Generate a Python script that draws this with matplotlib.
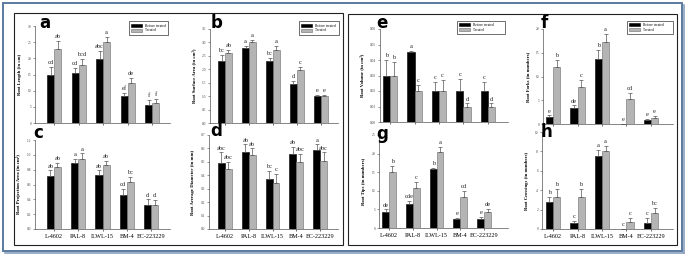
import matplotlib
matplotlib.use("Agg")
import matplotlib.pyplot as plt
from matplotlib.patches import Rectangle, Patch
import numpy as np

W, H = 685, 257

genotypes = ["L-4602", "PAL-8", "ILWL-15", "BM-4", "EC-223229"]
series_names = ["Before treated", "Treated"]

# a Root length
a_before = [15.0, 15.5, 19.8, 8.2, 5.5]
a_treated = [22.8, 18.0, 25.0, 12.3, 6.2]
a_err_b = [2.2, 1.5, 2.5, 1.0, 1.5]
a_err_t = [2.5, 1.8, 1.5, 1.7, 1.2]
a_let_b = ["cd", "cd", "abc", "ef", "f"]
a_let_t = ["ab", "bcd", "a", "de", "f"]

# b Root surface area
b_before = [2.30, 2.78, 2.32, 1.45, 1.02]
b_treated = [2.60, 3.00, 2.72, 1.98, 1.00]
b_err_b = [0.22, 0.10, 0.10, 0.10, 0.04]
b_err_t = [0.12, 0.10, 0.15, 0.10, 0.05]
b_let_b = ["bc", "a", "bc", "d", "e"]
b_let_t = ["ab", "a", "a", "c", "e"]

# c Root projection area
c_before = [0.72, 0.89, 0.73, 0.46, 0.32]
c_treated = [0.83, 0.95, 0.86, 0.63, 0.32]
c_err_b = [0.07, 0.06, 0.06, 0.08, 0.08]
c_err_t = [0.06, 0.07, 0.06, 0.07, 0.07]
c_let_b = ["ab", "a", "ab", "cd", "d"]
c_let_t = ["ab", "a", "ab", "bc", "d"]

# d Root average diameter
d_before = [0.49, 0.57, 0.37, 0.56, 0.59]
d_treated = [0.45, 0.55, 0.34, 0.50, 0.51]
d_err_b = [0.08, 0.06, 0.06, 0.05, 0.04]
d_err_t = [0.05, 0.05, 0.07, 0.06, 0.06]
d_let_b = ["abc", "ab", "bc", "ab", "a"]
d_let_t = ["abc", "ab", "c", "abc", "abc"]

# e Root volume
e_before = [0.030, 0.045, 0.020, 0.020, 0.020]
e_treated = [0.030, 0.020, 0.020, 0.010, 0.010]
e_err_b = [0.010, 0.001, 0.006, 0.008, 0.006]
e_err_t = [0.009, 0.004, 0.007, 0.002, 0.002]
e_let_b = ["b", "a", "c", "c", "c"]
e_let_t = ["b", "c", "c", "d", "d"]

# f Root forks
f_before = [1.5, 3.3, 13.7, 0.0, 0.8]
f_treated = [12.0, 7.7, 17.3, 5.3, 1.3]
f_err_b = [0.3, 0.6, 1.8, 0.0, 0.2]
f_err_t = [1.5, 1.5, 1.7, 1.3, 0.4]
f_let_b = ["e", "de", "b", "e", "e"]
f_let_t = ["b", "c", "a", "cd", "e"]

# g Root tips
g_before = [4.2, 6.5, 15.8, 2.3, 2.5]
g_treated = [15.0, 10.8, 20.3, 8.3, 4.3]
g_err_b = [0.8, 0.8, 0.3, 0.3, 0.5]
g_err_t = [1.8, 1.6, 1.6, 1.6, 0.8]
g_let_b = ["de", "cde", "b", "e", "e"]
g_let_t = ["b", "c", "a", "cd", "de"]

# h Root crossings
h_before = [2.8, 0.6, 7.5, 0.0, 0.6]
h_treated = [3.3, 3.3, 8.0, 0.7, 1.7]
h_err_b = [0.5, 0.2, 0.6, 0.0, 0.5]
h_err_t = [0.8, 0.8, 0.6, 0.4, 0.5]
h_let_b = ["b", "c", "a", "c", "c"]
h_let_t = ["b", "b", "a", "c", "bc"]

fig = plt.figure(figsize=(W / 100, H / 100), dpi=100)
fig.patch.set_facecolor("white")

SERIF = ["Liberation Serif", "DejaVu Serif"]


def px_axes(left, right, top, bottom):
    return fig.add_axes([left / W, 1 - bottom / H, (right - left) / W, (bottom - top) / H])


def panel(box, xlim, ymax, ystep, yfmt, ylabel, before, treated, eb, et, lb, lt,
          letter, letter_xy, xlabels, legend_box=None):
    ax = px_axes(*box)
    x = np.arange(len(genotypes))
    w = 0.29
    ax.bar(x - w / 2, before, w, color="black", edgecolor="black", linewidth=0.4, zorder=2)
    ax.bar(x + w / 2, treated, w, color="#b4b4b4", edgecolor="#6a6a6a", linewidth=0.4, zorder=2)
    ax.errorbar(x - w / 2, before, yerr=[np.zeros(5), eb], fmt="none", ecolor="#555555",
                elinewidth=0.5, capsize=1.3, capthick=0.5, zorder=3)
    ax.errorbar(x + w / 2, treated, yerr=[np.zeros(5), et], fmt="none", ecolor="#555555",
                elinewidth=0.5, capsize=1.3, capthick=0.5, zorder=3)
    off = ymax * 0.02
    for i in range(5):
        ax.text(x[i] - w / 2, before[i] + eb[i] + off, lb[i], ha="center", va="bottom",
                fontsize=4.6, family=SERIF, color="#222222")
        ax.text(x[i] + w / 2, treated[i] + et[i] + off, lt[i], ha="center", va="bottom",
                fontsize=4.6, family=SERIF, color="#222222")
    ax.set_xlim(*xlim)
    ax.set_ylim(0, ymax)
    ticks = np.arange(0, ymax + ystep / 2, ystep)
    ax.set_yticks(ticks)
    ax.set_yticklabels([yfmt.format(t) for t in ticks], fontsize=2.6, family=SERIF, color="#444444")
    ax.set_xticks(x)
    if xlabels:
        ax.set_xticklabels(genotypes, fontsize=4.4, family=SERIF)
    else:
        ax.set_xticklabels([])
    ax.tick_params(axis="y", length=1.2, width=0.4, pad=1.5, colors="#444444")
    ax.tick_params(axis="x", length=1.2, width=0.4, pad=2.5)
    for s in ["top", "right"]:
        ax.spines[s].set_visible(False)
    for s in ["left", "bottom"]:
        ax.spines[s].set_linewidth(0.5)
        ax.spines[s].set_color("#555555")
    ax.set_ylabel(ylabel, fontsize=3.4, family=SERIF, fontweight="bold", labelpad=4)
    fig.text(letter_xy[0] / W, 1 - letter_xy[1] / H, letter, fontsize=12, fontweight="bold",
             family="DejaVu Sans", ha="left", va="baseline")
    if legend_box is not None:
        handles = [Patch(facecolor="black", edgecolor="black", linewidth=0.4),
                   Patch(facecolor="#b4b4b4", edgecolor="#6a6a6a", linewidth=0.4)]
        lx0, ly0, lx1, ly1 = legend_box
        bb = ((lx0) / W, 1 - ly1 / H, (lx1 - lx0) / W, (ly1 - ly0) / H)
        leg = fig.legend(handles, series_names, loc="center", bbox_to_anchor=bb,
                         bbox_transform=fig.transFigure, frameon=True,
                         fancybox=False, handlelength=3.0, handleheight=0.9,
                         borderpad=0.6, labelspacing=0.25, handletextpad=0.8,
                         prop={"family": SERIF, "size": 2.6}, mode="expand")
        leg.get_frame().set_edgecolor("black")
        leg.get_frame().set_linewidth(0.5)
    return ax


panel((35, 170, 26, 123), (-0.78, 4.73), 30, 5, "{:.0f}", "Root Length (in cm)",
      a_before, a_treated, a_err_b, a_err_t, a_let_b, a_let_t, "a", (39, 28), False,
      (127, 21, 170, 35))
panel((210, 338, 29, 123), (-0.625, 4.71), 3.5, 0.5, "{:.1f}", "Root Surface Area (in cm²)",
      b_before, b_treated, b_err_b, b_err_t, b_let_b, b_let_t, "b", (211, 28), False,
      (297, 21, 341, 35))
panel((35, 170, 140, 229), (-0.78, 4.78), 1.2, 0.2, "{:.1f}", "Root Projection Area (in cm²)",
      c_before, c_treated, c_err_b, c_err_t, c_let_b, c_let_t, "c", (33, 138), True)
panel((209, 338, 135, 229), (-0.67, 4.75), 0.7, 0.1, "{:.1f}", "Root Average Diameter (in mm)",
      d_before, d_treated, d_err_b, d_err_t, d_let_b, d_let_t, "d", (210, 136), True)
panel((380, 508, 29, 122), (-0.41, 4.82), 0.06, 0.01, "{:.2f}", "Root Volume (in cm³)",
      e_before, e_treated, e_err_b, e_err_t, e_let_b, e_let_t, "e", (376, 28), False,
      (455, 20, 507, 35))
panel((543, 673, 29, 124), (-0.41, 4.9), 20, 5, "{:.0f}", "Root Forks (in numbers)",
      f_before, f_treated, f_err_b, f_err_t, f_let_b, f_let_t, "f", (541, 28), False,
      (625, 20, 675, 35))
panel((379, 508, 135, 228), (-0.42, 5.0), 25, 5, "{:.0f}", "Root Tips (in numbers)",
      g_before, g_treated, g_err_b, g_err_t, g_let_b, g_let_t, "g", (376, 139), True)
panel((542, 673, 132, 229), (-0.45, 4.9), 10, 2, "{:.0f}", "Root Crossings (in numbers)",
      h_before, h_treated, h_err_b, h_err_t, h_let_b, h_let_t, "h", (541, 137), True)


def fig_rect(x0, y0, x1, y1, **kw):
    r = Rectangle((x0 / W, 1 - y1 / H), (x1 - x0) / W, (y1 - y0) / H,
                  transform=fig.transFigure, fill=False, **kw)
    fig.add_artist(r)


# inner black frames
fig_rect(14, 13, 343, 245, edgecolor="#222222", linewidth=0.8)
fig_rect(348, 14, 677, 245, edgecolor="#222222", linewidth=0.8)
# outer blue border with shadow
fig_rect(3, 3, 682, 251, edgecolor="#5a7aa0", linewidth=1.4)
fig.add_artist(plt.Line2D([684 / W, 684 / W], [1 - 253 / H, 1 - 5 / H], transform=fig.transFigure,
                          color="#8aa0bb", linewidth=1.2))
fig.add_artist(plt.Line2D([5 / W, 684 / W], [1 - 253 / H, 1 - 253 / H], transform=fig.transFigure,
                          color="#8aa0bb", linewidth=1.2))

fig.savefig("out.png", dpi=100, facecolor="white")
